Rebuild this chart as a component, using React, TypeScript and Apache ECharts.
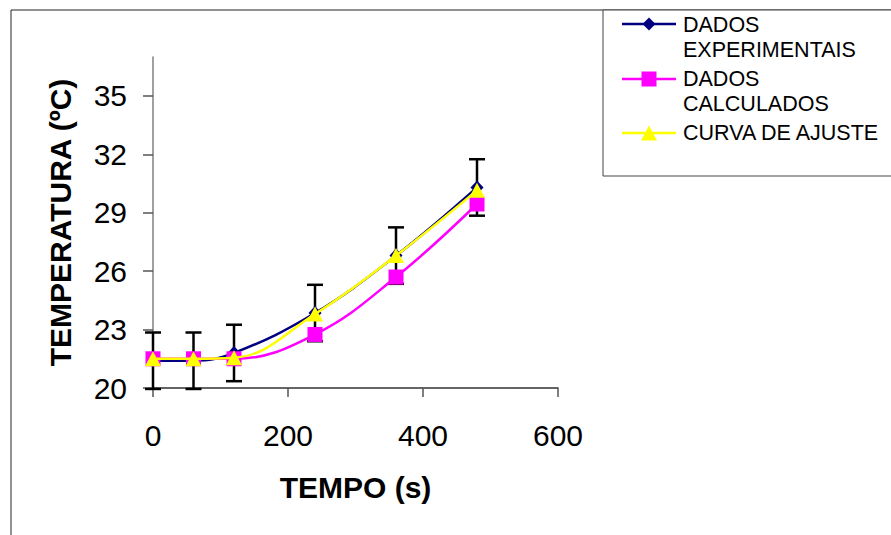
import React, { useEffect, useRef } from "react";
import * as echarts from "echarts";

// Sampling instants (s)
const times = [0, 60, 120, 240, 360, 480];
// Measured temperature (ºC) and its error bar half-width
const experimental = [21.4, 21.4, 21.8, 23.85, 26.8, 30.3];
const experimentalError = [1.45, 1.45, 1.45, 1.45, 1.45, 1.45];
// Model-calculated temperature (ºC)
const calculated = [21.5, 21.5, 21.5, 22.75, 25.7, 29.45];
// Fitted curve (ºC)
const fitted = [21.5, 21.5, 21.55, 23.8, 26.8, 30.15];

const yTicks = [20, 23, 26, 29, 32, 35];
const xTicks = [0, 200, 400, 600];

const FONT = "'Liberation Sans', Arial, sans-serif";
const NAVY = "#000080";
const MAGENTA = "#FF00FF";
const YELLOW = "#FFFF00";

export default function App() {
  const ref = useRef<HTMLDivElement>(null);

  useEffect(() => {
    if (!ref.current) return;
    const chart = echarts.init(ref.current, undefined, { renderer: "svg" });

    const pts = (ys: number[]) => times.map((t, i) => [t, ys[i]]);
    const errData = times.map((t, i) => [
      t,
      experimental[i] - experimentalError[i],
      experimental[i] + experimentalError[i],
    ]);

    const legendText = (text: string, y: number) => ({
      type: "text",
      x: 683,
      y,
      style: {
        text,
        fill: "#000",
        font: `21.5px ${FONT}`,
        verticalAlign: "middle",
        align: "left",
      },
    });

    chart.setOption({
      animation: false,
      backgroundColor: "#fff",
      grid: { left: 153, right: 333, top: 57, bottom: 147 },
      xAxis: {
        type: "value",
        min: 0,
        max: 600,
        interval: 200,
        name: "TEMPO (s)",
        nameLocation: "middle",
        nameGap: 84,
        nameTextStyle: { fontFamily: FONT, fontWeight: "bold", fontSize: 30, color: "#000" },
        axisLine: { onZero: false, lineStyle: { color: "#333", width: 1.5 } },
        axisTick: { show: true, length: 9, lineStyle: { color: "#555", width: 1.5 }, customValues: xTicks },
        axisLabel: { fontFamily: FONT, fontSize: 30, color: "#000", margin: 32, customValues: xTicks },
        splitLine: { show: false },
      },
      yAxis: {
        type: "value",
        min: 20,
        max: 37,
        interval: 3,
        name: "TEMPERATURA (ºC)",
        nameLocation: "middle",
        nameGap: 78,
        nameTextStyle: { fontFamily: FONT, fontWeight: "bold", fontSize: 30, color: "#000" },
        axisLine: { show: true, onZero: false, lineStyle: { color: "#808080", width: 1.5 } },
        axisTick: { show: true, length: 10, lineStyle: { color: "#555", width: 1.5 }, customValues: yTicks },
        axisLabel: { fontFamily: FONT, fontSize: 30, color: "#000", margin: 26, customValues: yTicks },
        splitLine: { show: false },
      },
      series: [
        {
          type: "custom",
          name: "erro",
          z: 1,
          data: errData,
          encode: { x: 0, y: [1, 2] },
          renderItem: (_params: any, api: any) => {
            const x = api.value(0);
            const top = api.coord([x, api.value(2)]);
            const bot = api.coord([x, api.value(1)]);
            const w = 8;
            const st = { stroke: "#000", lineWidth: 2.5 };
            return {
              type: "group",
              children: [
                { type: "line", shape: { x1: top[0], y1: top[1], x2: bot[0], y2: bot[1] }, style: st },
                { type: "line", shape: { x1: top[0] - w, y1: top[1], x2: top[0] + w, y2: top[1] }, style: st },
                { type: "line", shape: { x1: bot[0] - w, y1: bot[1], x2: bot[0] + w, y2: bot[1] }, style: st },
              ],
            };
          },
        },
        {
          type: "line",
          name: "DADOS EXPERIMENTAIS",
          z: 2,
          data: pts(experimental),
          smooth: 0.4,
          symbol: "diamond",
          symbolSize: [13, 14],
          lineStyle: { color: NAVY, width: 2.5 },
          itemStyle: { color: NAVY },
        },
        {
          type: "line",
          name: "DADOS CALCULADOS",
          z: 3,
          data: pts(calculated),
          smooth: 0.4,
          symbol: "rect",
          symbolSize: 15,
          lineStyle: { color: MAGENTA, width: 2.5 },
          itemStyle: { color: MAGENTA },
        },
        {
          type: "line",
          name: "CURVA DE AJUSTE",
          z: 4,
          data: pts(fitted),
          smooth: 0.4,
          symbol: "triangle",
          symbolSize: [16, 15],
          lineStyle: { color: YELLOW, width: 2.5 },
          itemStyle: { color: YELLOW },
        },
      ],
      graphic: [
        // chart frame
        {
          type: "rect",
          shape: { x: 11, y: 10, width: 900, height: 600 },
          style: { fill: "none", stroke: "#222", lineWidth: 1 },
          silent: true,
        },
        // legend box
        {
          type: "rect",
          shape: { x: 603, y: 10, width: 300, height: 166 },
          style: { fill: "#fff", stroke: "#444", lineWidth: 1 },
          silent: true,
        },
        { type: "line", shape: { x1: 622, y1: 24, x2: 676, y2: 24 }, style: { stroke: NAVY, lineWidth: 2.5 } },
        {
          type: "polygon",
          shape: { points: [[649, 17.5], [655.5, 24], [649, 30.5], [642.5, 24]] },
          style: { fill: NAVY },
        },
        legendText("DADOS", 25),
        legendText("EXPERIMENTAIS", 50),
        { type: "line", shape: { x1: 622, y1: 79, x2: 676, y2: 79 }, style: { stroke: MAGENTA, lineWidth: 2.5 } },
        { type: "rect", shape: { x: 641.5, y: 71.5, width: 15, height: 15 }, style: { fill: MAGENTA } },
        legendText("DADOS", 79),
        legendText("CALCULADOS", 104),
        { type: "line", shape: { x1: 622, y1: 133, x2: 676, y2: 133 }, style: { stroke: YELLOW, lineWidth: 2.5 } },
        {
          type: "polygon",
          shape: { points: [[649, 125.5], [657, 140.5], [641, 140.5]] },
          style: { fill: YELLOW },
        },
        legendText("CURVA DE AJUSTE", 133),
      ],
    });

    return () => chart.dispose();
  }, []);

  return (
    <div
      ref={ref}
      style={{ position: "fixed", left: 0, top: 0, width: 891, height: 535, background: "#fff" }}
    />
  );
}
